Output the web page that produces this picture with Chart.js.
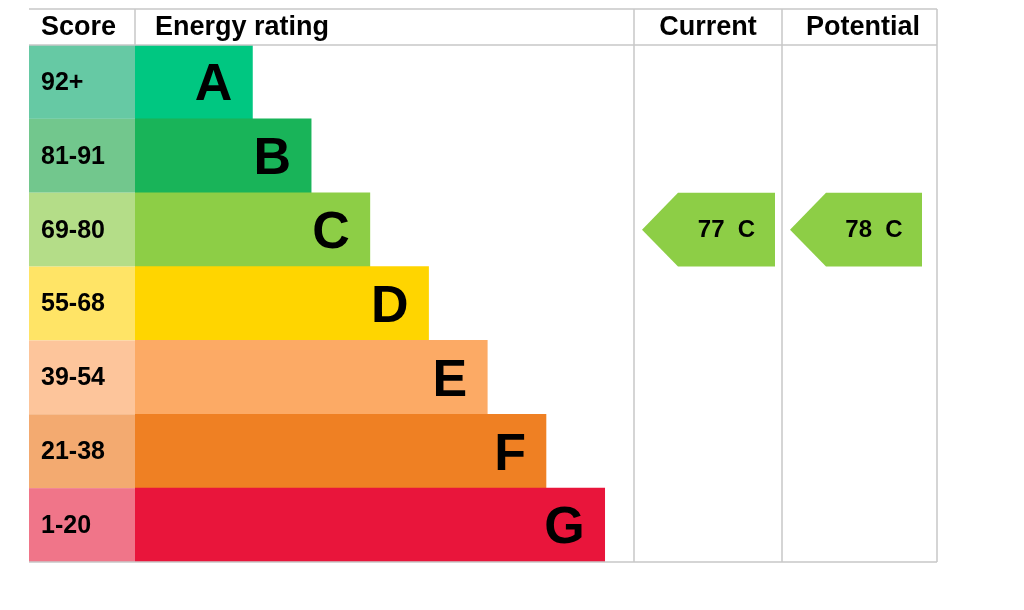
<!DOCTYPE html>
<html><head><meta charset="utf-8">
<script src="https://cdn.jsdelivr.net/npm/chart.js@4"></script>
<style>html,body{margin:0;background:#fff}#wrap{width:1024px;height:610px}</style>
</head><body><div id="wrap"><canvas id="c" width="1024" height="610"></canvas></div>
<script>
const bands = ['A','B','C','D','E','F','G'];
const scores = ['92+','81-91','69-80','55-68','39-54','21-38','1-20'];
const bandMin = [92,81,69,55,39,21,1];
const barLengths = [2,3,4,5,6,7,8];
const barColors = ['#00c781','#19b459','#8dce46','#ffd500','#fcaa65','#ef8023','#e9153b'];
const scoreColors = ['#66c9a4','#72c78d','#b4dd88','#ffe466','#fdc59b','#f3aa70','#f07589'];
const currentScore = 77;
const potentialScore = 78;

const font = '"Liberation Sans", Arial, sans-serif';
function bandOf(s){ return bandMin.findIndex(m => s >= m); }

const epcPlugin = {
  id: 'epc',
  beforeDatasetsDraw(chart){
    const {ctx, chartArea:a, scales:{y}} = chart;
    const h = (a.bottom - a.top) / bands.length;
    ctx.save();
    scores.forEach((s,i) => {
      const cy = y.getPixelForValue(i);
      ctx.fillStyle = scoreColors[i];
      ctx.fillRect(29, cy - h/2, a.left - 29, h);
    });
    ctx.restore();
  },
  afterDatasetsDraw(chart){
    const {ctx, chartArea:a, scales:{x,y}} = chart;
    const h = (a.bottom - a.top) / bands.length;
    ctx.save();
    ctx.fillStyle = '#000';
    ctx.textBaseline = 'middle';
    // score labels
    ctx.font = 'bold 25px ' + font;
    ctx.textAlign = 'left';
    scores.forEach((s,i) => ctx.fillText(s, 41, y.getPixelForValue(i) + 1));
    // band letters
    ctx.font = 'bold 52px ' + font;
    ctx.textAlign = 'right';
    bands.forEach((b,i) => ctx.fillText(b, x.getPixelForValue(barLengths[i]) - 20, y.getPixelForValue(i) + 4));
    // headers
    ctx.font = 'bold 27px ' + font;
    ctx.textAlign = 'left';
    ctx.fillText('Score', 41, 28);
    ctx.fillText('Energy rating', 155, 28);
    ctx.textAlign = 'center';
    ctx.fillText('Current', 708, 28);
    ctx.fillText('Potential', 863, 28);
    // grid
    ctx.strokeStyle = '#c8c8c8';
    ctx.lineWidth = 1.5;
    ctx.beginPath();
    ctx.moveTo(29, 9); ctx.lineTo(937, 9);
    ctx.moveTo(29, 45); ctx.lineTo(937, 45);
    ctx.moveTo(29, 562); ctx.lineTo(937, 562);
    [135, 634, 782, 937].forEach(xx => { ctx.moveTo(xx, 9); ctx.lineTo(xx, xx === 135 ? 45 : 562); });
    ctx.stroke();
    // arrows
    [[currentScore, 642, 775], [potentialScore, 790, 922]].forEach(([sc, l, r]) => {
      const bi = bandOf(sc);
      const cy = y.getPixelForValue(bi);
      const t = cy - h/2, bt = cy + h/2;
      ctx.fillStyle = barColors[bi];
      ctx.beginPath();
      ctx.moveTo(l, cy); ctx.lineTo(l + 36, t); ctx.lineTo(r, t);
      ctx.lineTo(r, bt); ctx.lineTo(l + 36, bt); ctx.closePath();
      ctx.fill();
      ctx.fillStyle = '#000';
      ctx.font = 'bold 24px ' + font;
      ctx.textAlign = 'center';
      ctx.fillText(sc + '  ' + bands[bi], (l + r)/2 + 18, cy + 1);
    });
    ctx.restore();
  }
};

new Chart(document.getElementById('c'), {
  type: 'bar',
  data: {
    labels: bands,
    datasets: [{ data: barLengths, backgroundColor: barColors, categoryPercentage: 1, barPercentage: 1 }]
  },
  options: {
    indexAxis: 'y',
    responsive: false,
    animation: false,
    layout: { padding: { left: 135, right: 87, top: 45, bottom: 48 } },
    plugins: { legend: { display: false }, tooltip: { enabled: false } },
    scales: {
      x: { display: false, min: 0, max: 13.66 },
      y: { display: false }
    }
  },
  plugins: [epcPlugin]
});
</script></body></html>
